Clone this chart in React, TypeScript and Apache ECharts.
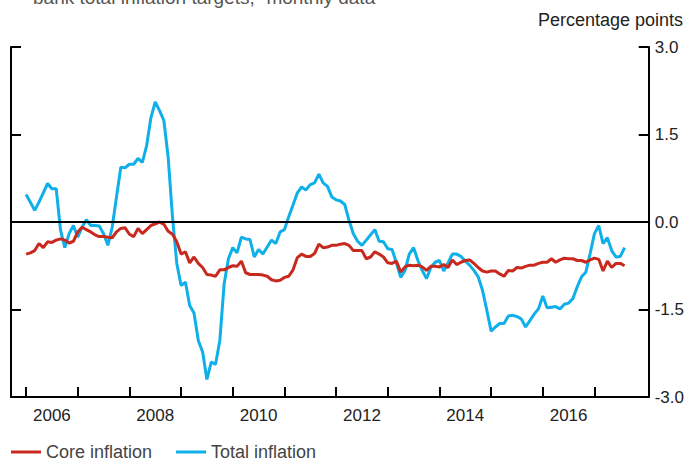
import React, { useEffect, useRef } from "react";
import * as echarts from "echarts";

// Months counted from January 2006 (index 0 = Jan 2006, last = Aug 2017)
const START_YEAR = 2006;
const yearTickMonths = [0, 12, 24, 36, 48, 60, 72, 84, 96, 108, 120, 132];
const yearLabelMonths = [6, 30, 54, 78, 102, 126];

const totalInflation = [
  0.47, 0.34, 0.2, 0.34, 0.5, 0.66, 0.57, 0.57, -0.14, -0.44, -0.2, -0.06,
  -0.26, -0.09, 0.04, -0.06, -0.06, -0.07, -0.2, -0.4, -0.09, 0.43, 0.94, 0.93,
  0.99, 0.99, 1.09, 1.02, 1.31, 1.79, 2.06, 1.91, 1.74, 1.11, 0.09, -0.71,
  -1.09, -1.03, -1.43, -1.56, -2.03, -2.23, -2.7, -2.4, -2.44, -2.03, -1.06, -0.63,
  -0.44, -0.53, -0.26, -0.29, -0.3, -0.6, -0.47, -0.55, -0.43, -0.31, -0.37, -0.17,
  -0.13, 0.09, 0.29, 0.5, 0.6, 0.55, 0.64, 0.67, 0.82, 0.67, 0.61, 0.43,
  0.38, 0.36, 0.3, 0.03, -0.2, -0.33, -0.4, -0.31, -0.22, -0.13, -0.33, -0.34,
  -0.46, -0.47, -0.7, -0.95, -0.83, -0.55, -0.44, -0.66, -0.83, -0.97, -0.78, -0.69,
  -0.66, -0.84, -0.7, -0.55, -0.55, -0.59, -0.67, -0.74, -0.83, -0.94, -1.17, -1.51,
  -1.87, -1.8, -1.74, -1.74, -1.61, -1.6, -1.62, -1.66, -1.8, -1.69, -1.58, -1.49,
  -1.27, -1.47, -1.46, -1.45, -1.49, -1.41, -1.39, -1.31, -1.11, -0.94, -0.86, -0.54,
  -0.2, -0.06, -0.37, -0.27, -0.49, -0.6, -0.59, -0.44,
];

const coreInflation = [
  -0.55, -0.53, -0.49, -0.37, -0.44, -0.34, -0.35, -0.31, -0.29, -0.31, -0.36, -0.33,
  -0.17, -0.09, -0.13, -0.17, -0.22, -0.25, -0.25, -0.26, -0.27, -0.17, -0.11, -0.1,
  -0.21, -0.25, -0.11, -0.2, -0.13, -0.06, -0.03, 0.0, -0.04, -0.16, -0.21, -0.34,
  -0.55, -0.51, -0.7, -0.6, -0.71, -0.78, -0.9, -0.91, -0.93, -0.82, -0.82, -0.78,
  -0.75, -0.76, -0.67, -0.87, -0.9, -0.9, -0.9, -0.91, -0.93, -0.99, -1.01, -1.0,
  -0.95, -0.93, -0.82, -0.61, -0.55, -0.59, -0.59, -0.54, -0.38, -0.44, -0.43, -0.4,
  -0.4, -0.38, -0.37, -0.4, -0.49, -0.49, -0.49, -0.63, -0.6, -0.51, -0.55, -0.6,
  -0.7, -0.71, -0.67, -0.86, -0.77, -0.74, -0.75, -0.74, -0.77, -0.83, -0.76, -0.76,
  -0.77, -0.73, -0.78, -0.65, -0.73, -0.69, -0.66, -0.65, -0.71, -0.78, -0.84, -0.86,
  -0.84, -0.84, -0.89, -0.93, -0.83, -0.84, -0.78, -0.79, -0.76, -0.74, -0.74, -0.71,
  -0.69, -0.69, -0.63, -0.69, -0.65, -0.62, -0.63, -0.63, -0.66, -0.66, -0.69, -0.65,
  -0.62, -0.64, -0.84, -0.67, -0.78, -0.71, -0.71, -0.75,
];

const FONT = "'Liberation Sans', Arial, Helvetica, sans-serif";
const RED = "#c8281e";
const BLUE = "#0fb0ea";

export default function App() {
  const ref = useRef<HTMLDivElement>(null);

  useEffect(() => {
    if (!ref.current) return;
    const chart = echarts.init(ref.current, null, { renderer: "svg" });
    const axisLineStyle = { color: "#000", width: 2 };
    const tickStyle = { color: "#000", width: 2 };
    chart.setOption({
      animation: false,
      textStyle: { fontFamily: FONT },
      grid: { left: 11, right: 38, top: 47, bottom: 65 },
      legend: {
        left: 6,
        top: 438,
        itemWidth: 30,
        itemHeight: 3,
        itemGap: 24,
        icon: "rect",
        textStyle: { fontFamily: FONT, fontSize: 18, color: "#444" },
        data: ["Core inflation", "Total inflation"],
      },
      graphic: [
        {
          type: "text",
          left: 33,
          top: -12,
          style: {
            text: "bank total inflation targets,\u00b9 monthly data",
            fontFamily: FONT,
            fontSize: 19,
            fill: "#555",
          },
        },
        {
          type: "text",
          right: 4,
          top: 11,
          style: {
            text: "Percentage points",
            fontFamily: FONT,
            fontSize: 18,
            fill: "#222",
          },
        },
      ],
      xAxis: {
        type: "value",
        min: -3.5,
        max: 144.6,
        axisLine: { show: true, onZero: false, lineStyle: axisLineStyle },
        axisTick: {
          show: true,
          inside: true,
          length: 10,
          customValues: yearTickMonths,
          lineStyle: tickStyle,
        },
        axisLabel: {
          customValues: yearLabelMonths,
          formatter: (v: number) => String(START_YEAR + (v - 6) / 12),
          fontFamily: FONT,
          fontSize: 17,
          color: "#222",
          margin: 10,
        },
        splitLine: { show: false },
      },
      yAxis: [
        {
          type: "value",
          position: "right",
          min: -3,
          max: 3,
          interval: 1.5,
          axisLine: { show: true, onZero: false, lineStyle: axisLineStyle },
          axisTick: { show: true, inside: true, length: 10, lineStyle: tickStyle },
          axisLabel: {
            formatter: (v: number) => v.toFixed(1),
            fontFamily: FONT,
            fontSize: 17,
            color: "#222",
            margin: 6,
          },
          splitLine: { show: false },
        },
        {
          type: "value",
          position: "left",
          min: -3,
          max: 3,
          interval: 1.5,
          axisLine: { show: true, onZero: false, lineStyle: axisLineStyle },
          axisTick: { show: true, inside: true, length: 10, lineStyle: tickStyle },
          axisLabel: { show: false },
          splitLine: { show: false },
        },
      ],
      series: [
        {
          name: "Core inflation",
          type: "line",
          data: coreInflation.map((v, i) => [i, v]),
          showSymbol: false,
          symbol: "none",
          lineStyle: { color: RED, width: 3 },
          itemStyle: { color: RED },
          z: 3,
          markLine: {
            silent: true,
            symbol: "none",
            label: { show: false },
            lineStyle: { color: "#000", width: 2, type: "solid" },
            data: [{ yAxis: 0 }],
          },
        },
        {
          name: "Total inflation",
          type: "line",
          data: totalInflation.map((v, i) => [i, v]),
          showSymbol: false,
          symbol: "none",
          lineStyle: { color: BLUE, width: 3 },
          itemStyle: { color: BLUE },
          z: 2,
        },
      ],
    });
    return () => chart.dispose();
  }, []);

  return (
    <div
      ref={ref}
      style={{ position: "fixed", left: 0, top: 0, width: 687, height: 462, background: "#fff" }}
    />
  );
}
